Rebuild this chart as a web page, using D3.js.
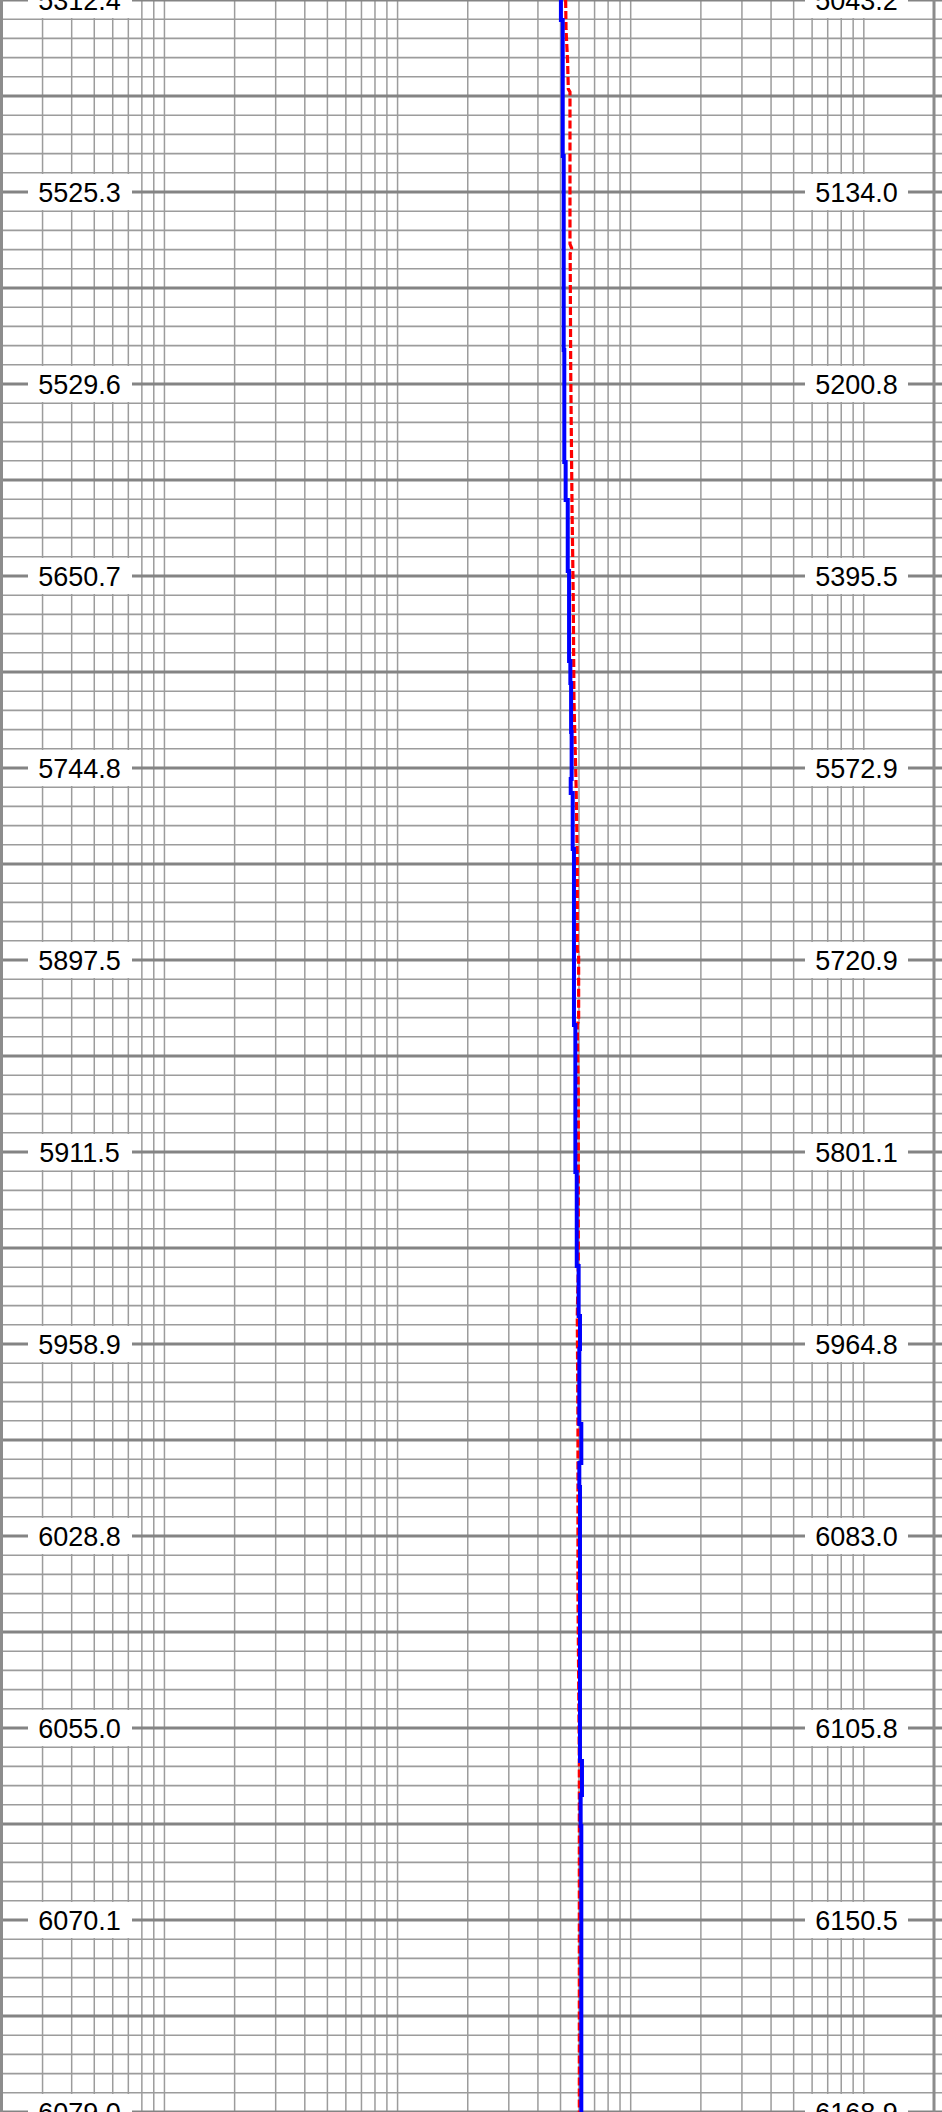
<!DOCTYPE html>
<html>
<head>
<meta charset="utf-8">
<script src="https://cdn.jsdelivr.net/npm/d3@7"></script>
<style>
  html, body { margin: 0; padding: 0; background: #fff; }
  svg { display: block; }
</style>
</head>
<body>
<svg id="chart" width="942" height="2112"></svg>
<script>
// ---- data ----
// row positions (grid units, one unit per thin gridline) of labelled rows
const labelRows = [0, 10, 20, 30, 40, 50, 60, 70, 80, 90, 100, 110];
const leftLabels = ["5312.4", "5525.3", "5529.6", "5650.7", "5744.8", "5897.5",
                    "5911.5", "5958.9", "6028.8", "6055.0", "6070.1", "6079.0"];
const rightLabels = ["5043.2", "5134.0", "5200.8", "5395.5", "5572.9", "5720.9",
                     "5801.1", "5964.8", "6083.0", "6105.8", "6150.5", "6168.9"];

// blue curve (stepped)
const blueRow = [0, 1.04, 8.13, 18.23, 24.06, 26.04, 29.74, 34.43, 35.57, 38.13,
                 40.57, 41.30, 44.22, 53.39, 61.04, 65.94, 68.54, 70.26, 74.17,
                 76.20, 77.45, 91.72, 93.49, 95.10, 110];
const blueValue = [50.2, 51.1, 51.6, 51.9, 52.6, 53.7, 54.4, 55.1, 55.5, 55.8,
                   55.3, 56.4, 57.1, 57.9, 58.7, 59.8, 60.6, 60.2, 61.4,
                   60.2, 60.6, 61.8, 61.0, 61.4, 61.4];

// red dashed curve
const redRow = [0, 1.56, 3.13, 4.64, 4.79, 12.71, 12.92, 13.23, 19.27, 26.25,
                31.15, 36.46, 40.83, 44.79, 49.48, 49.74, 53.13, 53.39, 57.08,
                65.94, 68.54, 74.17, 82.97, 91.72, 110];
const redValue = [52.6, 52.8, 53.6, 54.0, 54.9, 54.9, 55.8, 55.0, 55.3, 56.0,
                  56.7, 57.1, 58.3, 59.0, 59.0, 59.8, 59.8, 59.0, 59.6,
                  59.6, 59.0, 59.4, 59.4, 60.2, 60.2];

// ---- scales ----
const W = 942, H = 2112;
const x = d3.scaleLog().domain([0.2, 2000]).range([1.5, 934]);
const y = d3.scaleLinear().domain([0, 110]).range([0, H]);

const svg = d3.select("#chart");

// vertical log grid lines
const vTicks = [];
[0.1, 1, 10, 100, 1000].forEach(dec => {
  for (let k = 1; k <= 9; k++) {
    const v = +(k * dec).toPrecision(3);
    if (v > 0.2 && v < 2000) vTicks.push(v);
  }
});
svg.append("g").selectAll("line").data(vTicks).join("line")
  .attr("x1", d => x(d)).attr("x2", d => x(d))
  .attr("y1", 0).attr("y2", H)
  .attr("stroke", "#9c9c9c").attr("stroke-width", 1.5);

// horizontal grid lines
const hRows = d3.range(0, 111);
svg.append("g").selectAll("line").data(hRows.filter(r => r % 5 !== 0)).join("line")
  .attr("x1", 0).attr("x2", W)
  .attr("y1", d => y(d)).attr("y2", d => y(d))
  .attr("stroke", "#9c9c9c").attr("stroke-width", 1.6);
svg.append("g").selectAll("line").data(hRows.filter(r => r % 5 === 0)).join("line")
  .attr("x1", 0).attr("x2", W)
  .attr("y1", d => y(d)).attr("y2", d => y(d))
  .attr("stroke", "#848484").attr("stroke-width", 3);

// label boxes + text
const labelData = labelRows.map((r, i) => ({ r, left: leftLabels[i], right: rightLabels[i] }));
const lab = svg.append("g");
lab.selectAll("rect.l").data(labelData).join("rect").attr("class", "l")
  .attr("x", 28).attr("width", 104)
  .attr("y", d => y(d.r) - 18).attr("height", 36)
  .attr("fill", "#fff");
lab.selectAll("rect.r").data(labelData).join("rect").attr("class", "r")
  .attr("x", 805).attr("width", 103)
  .attr("y", d => y(d.r) - 18).attr("height", 36)
  .attr("fill", "#fff");
lab.selectAll("text.l").data(labelData).join("text").attr("class", "l")
  .attr("x", 79.5).attr("y", d => y(d.r) + 9.5)
  .attr("text-anchor", "middle")
  .attr("font-family", "'Liberation Sans', Arial, sans-serif")
  .attr("font-size", 27).attr("fill", "#000")
  .text(d => d.left);
lab.selectAll("text.r").data(labelData).join("text").attr("class", "r")
  .attr("x", 856.5).attr("y", d => y(d.r) + 9.5)
  .attr("text-anchor", "middle")
  .attr("font-family", "'Liberation Sans', Arial, sans-serif")
  .attr("font-size", 27).attr("fill", "#000")
  .text(d => d.right);

// curves
const redPts = redRow.map((r, i) => [redValue[i], r]);
const bluePts = blueRow.map((r, i) => [blueValue[i], r]);

const redLine = d3.line().x(d => x(d[0])).y(d => y(d[1])).curve(d3.curveLinear);
// stepped in depth: value holds until next row (built in transposed space)
const blueLine = d3.line().x(d => y(d[1])).y(d => x(d[0])).curve(d3.curveStepAfter);

svg.append("path").datum(redPts)
  .attr("d", redLine)
  .attr("fill", "none").attr("stroke", "#ff0000")
  .attr("stroke-width", 3.2).attr("stroke-dasharray", "8,3");

svg.append("path")
  .attr("d", blueLine(bluePts))
  .attr("transform", "matrix(0,1,1,0,0,0)")
  .attr("fill", "none").attr("stroke", "#0000ff")
  .attr("stroke-width", 4);

// frame
svg.append("line").attr("x1", 1.5).attr("x2", 1.5).attr("y1", 0).attr("y2", H)
  .attr("stroke", "#8c8c8c").attr("stroke-width", 3);
svg.append("line").attr("x1", 934).attr("x2", 934).attr("y1", 0).attr("y2", H)
  .attr("stroke", "#8c8c8c").attr("stroke-width", 3);
</script>
</body>
</html>
